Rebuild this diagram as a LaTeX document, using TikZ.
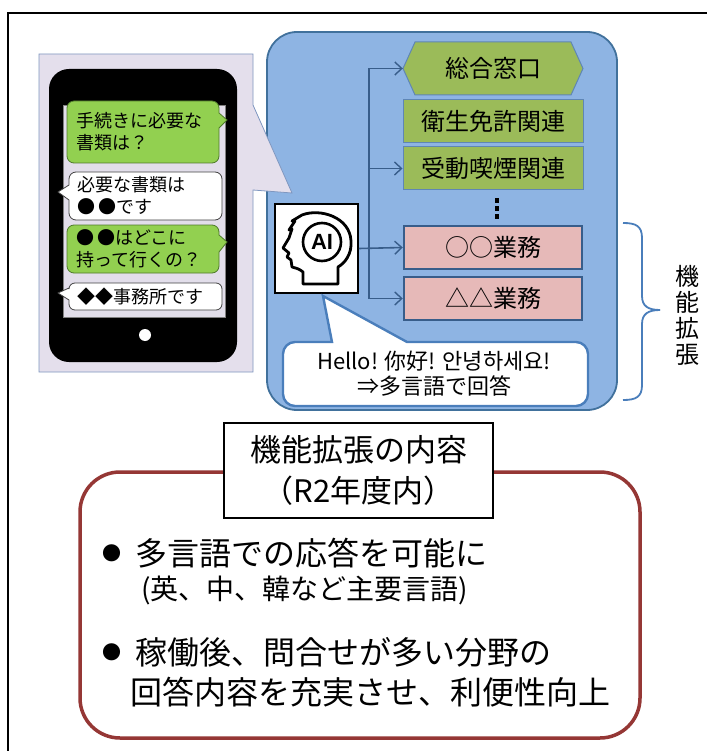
\documentclass[tikz,border=0pt]{standalone}
\usepackage{fontspec}
\setmainfont{Noto Sans CJK JP}
\newfontfamily\latinsans{Liberation Sans}
\usetikzlibrary{arrows.meta}

\definecolor{lav}{HTML}{E4DFEC}
\definecolor{lavedge}{HTML}{7F97C0}
\definecolor{screenc}{HTML}{E2DEEA}
\definecolor{bubgreen}{HTML}{92D050}
\definecolor{bubgedge}{HTML}{4F7A2B}
\definecolor{panelblue}{HTML}{8EB4E3}
\definecolor{paneledge}{HTML}{41719C}
\definecolor{boxgreen}{HTML}{9BBB59}
\definecolor{boxedge}{HTML}{5F86B5}
\definecolor{boxpink}{HTML}{E6B9B8}
\definecolor{pinkedge}{HTML}{385D8A}
\definecolor{connc}{HTML}{385D8A}
\definecolor{calloutedge}{HTML}{4A7EBB}
\definecolor{redframe}{HTML}{953735}

\tikzset{
  fs/.style 2 args={font=\fontsize{#1}{#2}\selectfont},
  bubtext/.style={fs={18}{22}, align=left, anchor=west, inner sep=0pt},
  greenbub/.style={fill=bubgreen, draw=bubgedge, line width=0.8pt},
  whitebub/.style={fill=white, draw=black!75, line width=0.8pt},
  gbox/.style={rectangle, fill=boxgreen, draw=boxedge, line width=1pt,
    minimum width=180pt, minimum height=43pt, inner sep=0pt, fs={24}{26}},
  pbox/.style={rectangle, fill=boxpink, draw=pinkedge, line width=2.5pt,
    minimum width=178pt, minimum height=43pt, inner sep=0pt, fs={24}{26}},
  conn/.style={draw=connc, line width=1.6pt},
  arr/.style={conn, -{Straight Barb[length=7pt,width=13pt,line width=1.4pt]}},
  bracec/.style={draw=calloutedge, line width=1.8pt},
  body/.style={fs={32}{36}, anchor=west, inner sep=0pt},
  bodysmall/.style={fs={28}{30}, anchor=west, inner sep=0pt},
  bullet/.style={fs={19}{20}, inner sep=0pt},
}

\begin{document}
\begin{tikzpicture}[x=1pt,y=-1pt]
\useasboundingbox (0,0) rectangle (707,751);
\fill[white] (0,0) rectangle (707,751);

% outer frame (top and left edges)
\draw[line width=1.5pt] (8,751) -- (8,13) -- (707,13);

% blue panel of the AI service
\draw[fill=panelblue, draw=paneledge, line width=1.8pt, rounded corners=30]
  (267,32) rectangle (617,410);

% phone backdrop with its pointer toward the AI box
\draw[fill=lav, draw=lavedge, line width=0.8pt]
  (39,54) -- (253,54) -- (253,105) -- (292,193) -- (253,190) -- (253,372) -- (39,372) -- cycle;

% smartphone
\fill[black, rounded corners=20] (49,69) rectangle (237,362);
\draw[fill=screenc, draw=black!50, line width=0.6pt] (63,105) rectangle (225,317);
\fill[white] (145,335) circle (6);

% chat bubbles
\draw[greenbub] (143,101) {[rounded corners=7] -- (219,101)} -- (219,113) -- (227,120) -- (219,128)
  {[rounded corners=7] -- (219,163) -- (67,163) -- (67,101)} -- cycle;
\node[bubtext] (q1) at (76,132) {手続きに必要な\\書類は？};

\draw[whitebub] (143,172) {[rounded corners=7] -- (222,172) -- (222,220) -- (69,220)} -- (69,200) -- (58,192) -- (69,185)
  {[rounded corners=7] -- (69,172)} -- cycle;
\node[bubtext] (a1) at (77,196) {必要な書類は\\●\,●です};

\draw[greenbub] (143,225) {[rounded corners=7] -- (219,225)} -- (219,235) -- (227,242) -- (219,252)
  {[rounded corners=7] -- (219,273) -- (67,273) -- (67,225)} -- cycle;
\node[bubtext] (q2) at (76,249) {●\,●はどこに\\持って行くの？};

\draw[whitebub] (143,283) {[rounded corners=6] -- (222,283) -- (222,310) -- (69,310)} -- (69,300) -- (58,293) -- (69,288)
  {[rounded corners=6] -- (69,283)} -- cycle;
\node[bubtext] (a2) at (77,297) {◆◆事務所です};

% service boxes
\fill[boxgreen] (415,42) -- (571,42) -- (583,68.5) -- (571,95) -- (415,95) -- (403,68.5) -- cycle;
\draw[boxedge, line width=1pt] (415,42) -- (571,42) -- (583,68.5) -- (571,95) -- (415,95) -- (403,68.5) -- cycle;
\node[rectangle, minimum width=180pt, minimum height=53pt, inner sep=0pt, fs={24}{26}] (hex) at (493,68.5) {総合窓口};
\node[gbox] (eisei) at (493,121.5) {衛生免許関連};
\node[gbox] (judo) at (493,168.5) {受動喫煙関連};
\fill[black] (495,198) rectangle (499,203);
\fill[black] (495,206) rectangle (499,211);
\fill[black] (495,214) rectangle (499,219);
\node[pbox] (oo) at (493,247.5) {○○業務};
\node[pbox] (dd) at (493,298.5) {△△業務};

% AI box with head icon
\node[rectangle, fill=white, draw=black, line width=1.6pt, minimum width=83pt, minimum height=89pt] (ai) at (316.5,248.5) {};
\draw[line width=2.8pt, line join=round]
  (303,284) -- (303,272) .. controls (299,269) .. (292,267) -- (291,260) -- (287,257) -- (289,253)
  -- (283,248) -- (289,238) -- (292,229) -- (289,230) -- (295,221) -- (292,221) -- (302,215)
  .. controls (320,208) and (350,217) .. (351,241) .. controls (352,254) and (345,263) .. (338,267)
  -- (338,284) -- cycle;
\draw[line width=2.6pt] (322,242) circle (19);
\node[font=\latinsans\bfseries\fontsize{22}{22}\selectfont, inner sep=0pt] (ailabel) at (322,242) {AI};

% routing from the AI to each service
\coordinate (trunk) at (369,0);
\draw[conn] (trunk |- hex.west) -- (trunk |- dd.west);
\draw[arr] (trunk |- hex.west) -- (hex.west);
\draw[arr] (trunk |- judo.west) -- (judo.west);
\draw[arr] (ai.east) -- (oo.west);
\draw[arr] (trunk |- dd.west) -- (dd.west);

% multilingual reply callout
\draw[fill=white, draw=calloutedge, line width=2.4pt]
  (332,342) -- (323,296) -- (407,342)
  {[rounded corners=12] -- (588,342) -- (588,406) -- (283,406) -- (283,342)} -- cycle;
\node[fs={22}{25}, align=center, inner sep=0pt] (reply) at (434,374) {Hello! 你好! 안녕하세요!\\⇒多言語で回答};

% brace marking the extended functions
\draw[bracec] (623,223) .. controls (636,223) and (642,226) .. (642,238) -- (642,296)
  .. controls (642,306) and (648,310) .. (660,310);
\draw[bracec] (623,400) .. controls (636,400) and (642,397) .. (642,385) -- (642,324)
  .. controls (642,314) and (648,310) .. (660,310);
\node[fs={24}{26}, align=center, inner sep=0pt] (ext) at (687,315) {機\\能\\拡\\張};

% summary of the extension
\draw[fill=white, draw=redframe, line width=3.5pt, rounded corners=40] (80,472) rectangle (640,738);
\node[rectangle, fill=white, draw=black, line width=1.6pt, minimum width=269pt, minimum height=95pt,
  fs={31}{41}, align=center] (title) at (358.5,470.5) {機能拡張の内容\\（R2年度内）};

\node[bullet] (b1) at (112,553) {●};
\node[body] (t1) at (135,553) {多言語での応答を可能に};
\node[bodysmall] (t1b) at (141,590) {(英、中、韓など主要言語)};
\node[bullet] (b2) at (112,652) {●};
\node[body] (t2) at (135,652) {稼働後、問合せが多い分野の};
\node[body] (t2b) at (130,692) {回答内容を充実させ、利便性向上};
\end{tikzpicture}
\end{document}
